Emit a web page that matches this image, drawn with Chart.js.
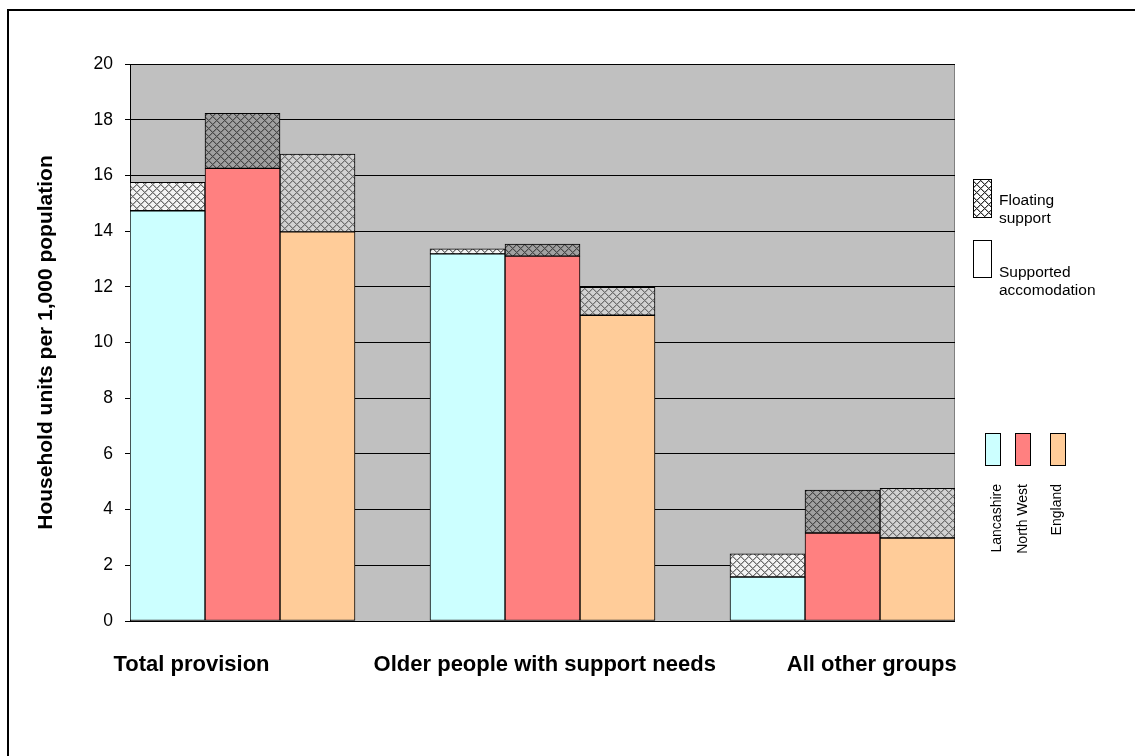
<!DOCTYPE html>
<html>
<head>
<meta charset="utf-8">
<script src="https://cdn.jsdelivr.net/npm/chart.js@4/dist/chart.umd.min.js"></script>
<style>
  html, body { margin: 0; padding: 0; background: #fff; }
  #wrap { width: 1135px; height: 756px; }
</style>
</head>
<body>
<div id="wrap"><canvas id="chart" width="1135" height="756"></canvas></div>
<script>
// Household units per 1,000 population, by client group and area
const groups = ['Total provision', 'Older people with support needs', 'All other groups'];
const areas = ['Lancashire', 'North West', 'England'];

// Supported accommodation (lower segment)
const lancashireSupported = [14.73, 13.18, 1.58];
const northWestSupported  = [16.25, 13.10, 3.16];
const englandSupported    = [13.97, 10.98, 2.98];

// Floating support (upper segment)
const lancashireFloating = [1.02, 0.18, 0.83];
const northWestFloating  = [1.98, 0.43, 1.54];
const englandFloating    = [2.80, 1.00, 1.78];

const yTickValues = [0, 2, 4, 6, 8, 10, 12, 14, 16, 18, 20];

// Each group takes three bar slots followed by one empty spacer slot
const SLOTS_PER_GROUP = areas.length + 1;
const slotCount = groups.length * SLOTS_PER_GROUP - 1;
const slotLabels = Array.from({ length: slotCount }, () => '');

function toSlots(values, areaIndex) {
  const out = new Array(slotCount).fill(null);
  values.forEach((v, g) => { out[g * SLOTS_PER_GROUP + areaIndex] = v; });
  return out;
}

const ctx = document.getElementById('chart').getContext('2d');

// Diamond lattice fill used for the floating support segments
function lattice(bg, line, soft) {
  const c = document.createElement('canvas');
  c.width = 8; c.height = 8;
  const g = c.getContext('2d');
  g.fillStyle = bg;
  g.fillRect(0, 0, 8, 8);
  for (let i = 0; i < 8; i++) {
    for (let j = 0; j < 8; j++) {
      const a = (i + j) % 8, b = (i - j + 8) % 8;
      if (a === 0 || b === 0) {
        g.fillStyle = line;
        g.fillRect(i, j, 1, 1);
      } else if (a === 1 || b === 1) {
        g.fillStyle = soft;
        g.fillRect(i, j, 1, 1);
      }
    }
  }
  return ctx.createPattern(c, 'repeat');
}

const colours = {
  lancashire: '#CCFFFF',
  northWest: '#FF8080',
  england: '#FFCC99',
  plot: '#C0C0C0'
};
const hatchLancashire = lattice('#F4F4F4', '#6E6E6E', '#B4B4B4');
const hatchNorthWest  = lattice('#A0A0A0', '#4A4A4A', '#808080');
const hatchEngland    = lattice('#D2D2D2', '#707070', '#A8A8A8');
const hatchLegend     = lattice('#FFFFFF', '#303030', '#B0B0B0');

function barSet(label, values, areaIndex, fill) {
  return {
    label,
    data: toSlots(values, areaIndex),
    backgroundColor: fill,
    borderColor: '#000',
    borderWidth: 1,
    borderSkipped: false,
    barPercentage: 1,
    categoryPercentage: 1
  };
}

const datasets = [
  barSet('Lancashire supported accomodation', lancashireSupported, 0, colours.lancashire),
  barSet('North West supported accomodation', northWestSupported, 1, colours.northWest),
  barSet('England supported accomodation', englandSupported, 2, colours.england),
  barSet('Lancashire floating support', lancashireFloating, 0, hatchLancashire),
  barSet('North West floating support', northWestFloating, 1, hatchNorthWest),
  barSet('England floating support', englandFloating, 2, hatchEngland)
];

// Where each group caption sits along the slot axis
const groupCaptionSlots = [0.32, 5.03, 9.39];

const FONT = '"Liberation Sans", Arial, sans-serif';

const decorations = {
  id: 'decorations',
  beforeDraw(chart) {
    const { ctx: c, chartArea: a } = chart;
    c.save();
    c.fillStyle = '#fff';
    c.fillRect(0, 0, chart.width, chart.height);
    // frame around the whole figure
    c.strokeStyle = '#000';
    c.lineWidth = 2;
    c.strokeRect(8, 10, chart.width + 20, chart.height + 20);
    // plot area
    c.fillStyle = colours.plot;
    c.fillRect(a.left, a.top, a.right - a.left, a.bottom - a.top);
    c.strokeStyle = '#808080';
    c.lineWidth = 1;
    c.strokeRect(a.left + 0.5, a.top + 0.5, a.right - a.left - 1, a.bottom - a.top);
    c.restore();
  },
  afterDraw(chart) {
    const c = chart.ctx;
    const xs = chart.scales.x;
    c.save();
    // group captions under the bars
    c.fillStyle = '#000';
    c.font = 'bold 22px ' + FONT;
    c.textAlign = 'center';
    c.textBaseline = 'middle';
    groups.forEach((g, i) => {
      c.fillText(g, xs.getPixelForValue(groupCaptionSlots[i]), 665);
    });

    // segment key
    c.lineWidth = 1;
    c.strokeStyle = '#000';
    c.fillStyle = hatchLegend;
    c.fillRect(973, 179, 19, 39);
    c.strokeRect(973.5, 179.5, 18, 38);
    c.fillStyle = '#fff';
    c.fillRect(973, 240, 19, 38);
    c.strokeRect(973.5, 240.5, 18, 37);

    c.fillStyle = '#000';
    c.font = '15.5px ' + FONT;
    c.textAlign = 'left';
    c.textBaseline = 'middle';
    c.fillText('Floating', 999, 201);
    c.fillText('support', 999, 219);
    c.fillText('Supported', 999, 273);
    c.fillText('accomodation', 999, 291);

    // area key
    const swatches = [colours.lancashire, colours.northWest, colours.england];
    const boxX = [985, 1015, 1050];
    const textX = [997, 1023, 1057];
    swatches.forEach((col, i) => {
      c.fillStyle = col;
      c.fillRect(boxX[i], 433, 16, 33);
      c.strokeRect(boxX[i] + 0.5, 433.5, 15, 32);
    });
    c.fillStyle = '#000';
    c.font = '14px ' + FONT;
    c.textAlign = 'right';
    c.textBaseline = 'middle';
    areas.forEach((name, i) => {
      c.save();
      c.translate(textX[i], 484);
      c.rotate(-Math.PI / 2);
      c.fillText(name, 0, 0);
      c.restore();
    });
    c.restore();
  }
};

new Chart(ctx, {
  type: 'bar',
  data: { labels: slotLabels, datasets },
  options: {
    responsive: false,
    animation: false,
    events: [],
    layout: { padding: { left: 30, top: 64, right: 180, bottom: 135 } },
    plugins: {
      legend: { display: false },
      tooltip: { enabled: false },
      title: { display: false }
    },
    scales: {
      x: {
        stacked: true,
        display: false,
        grid: { display: false }
      },
      y: {
        stacked: true,
        min: 0,
        max: 20,
        afterFit(scale) { scale.width = 100; },
        afterBuildTicks(scale) { scale.ticks = yTickValues.map(v => ({ value: v })); },
        border: { display: true, color: '#000', width: 1 },
        grid: {
          color: '#000',
          lineWidth: 1,
          drawTicks: true,
          tickLength: 5,
          tickColor: '#000'
        },
        ticks: {
          color: '#000',
          padding: 12,
          font: { family: FONT, size: 17.5 }
        },
        title: {
          display: true,
          text: 'Household units per 1,000 population',
          color: '#000',
          padding: { top: 4, bottom: 0 },
          font: { family: FONT, size: 21, weight: 'bold' }
        }
      }
    }
  },
  plugins: [decorations]
});
</script>
</body>
</html>
